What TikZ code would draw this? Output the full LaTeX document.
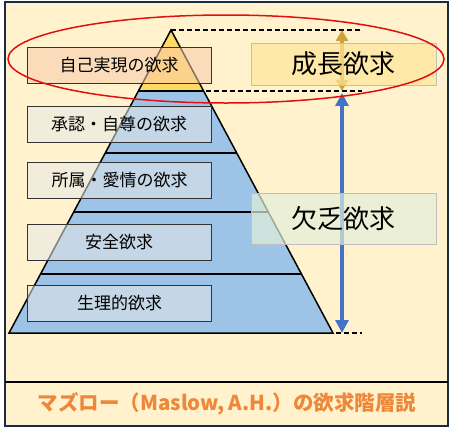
\documentclass[tikz,border=0pt]{standalone}
\usepackage{fontspec}
\setmainfont{Noto Sans CJK JP}
\usetikzlibrary{calc,arrows.meta}
\definecolor{masCrema}{HTML}{FFF2CC}
\definecolor{masAzul}{HTML}{9DC3E6}
\definecolor{masAmarillo}{HTML}{FFD966}
\definecolor{masMelocoton}{HTML}{F8CBAD}
\definecolor{masGris}{HTML}{E6E8E8}
\definecolor{masOro}{HTML}{FFE699}
\definecolor{masVerde}{HTML}{E2EFDA}
\definecolor{masBorde}{HTML}{333333}
\definecolor{masBordeClaro}{HTML}{BFBFBF}
\definecolor{masRojo}{HTML}{E01010}
\definecolor{masOcre}{HTML}{CFA33C}
\definecolor{masFlecha}{HTML}{4472C4}
\definecolor{masMarino}{HTML}{1C2A44}
\definecolor{masNaranja}{HTML}{EE873A}

\begin{document}
\begin{tikzpicture}[x=1pt, y=-1pt,
      font=\fontsize{17}{19}\selectfont,
      nivel/.style={draw=masBorde, line width=0.9pt, fill=#1, fill opacity=0.55,
                    text opacity=1, minimum width=184pt, minimum height=36pt, inner sep=0pt},
      grupo/.style={draw=masBordeClaro, line width=0.7pt, fill=#1, fill opacity=0.7,
                    text opacity=1, minimum width=185pt, inner sep=0pt,
                    font=\fontsize{26}{28}\selectfont},
      guia/.style={dash pattern=on 5pt off 3pt, line width=1.3pt},
      flechaOro/.style={masOcre, line width=4pt,
                        {Triangle[width=12pt,length=11pt]}-{Triangle[width=12pt,length=11pt]}},
      flechaAzul/.style={masFlecha, line width=4pt,
                         {Triangle[width=13pt,length=13pt]}-{Triangle[width=13pt,length=13pt]}}]
    \useasboundingbox (0,0) rectangle (452,429);
    % marco
    \fill[masCrema] (5,2) rectangle (448,426);
    % piramide
    \coordinate (cima) at (171,30);
    \coordinate (bi) at (9,333);
    \coordinate (bd) at (333,333);
    \coordinate (n1i) at ($(cima)!0.2013!(bi)$);
    \coordinate (n1d) at ($(cima)!0.2013!(bd)$);
    \coordinate (fin) at (362,0);
    \coordinate (eje) at (342,0);
    \fill[masAzul] (n1i) -- (n1d) -- (bd) -- (bi) -- cycle;
    \fill[masAmarillo] (cima) -- (n1d) -- (n1i) -- cycle;
    \foreach \t in {0.2013,0.4059,0.6007,0.8053}
      \draw[line width=1.5pt] ($(cima)!\t!(bi)$) -- ($(cima)!\t!(bd)$);
    \draw[line width=1.5pt, line join=miter] (cima) -- (bd) -- (bi) -- cycle;
    % lineas guia
    \draw[guia] (cima) -- (cima -| fin);
    \draw[guia] ([xshift=2pt]n1d) -- (n1d -| fin);
    \draw[guia] ([xshift=3pt]bd) -- (bd -| fin);
    % flechas
    \draw[flechaOro] (cima -| eje) -- (n1d -| eje);
    \draw[flechaAzul] ([yshift=-2pt]n1d -| eje) -- (bd -| eje);
    % niveles
    \node[nivel=masMelocoton] (autorreal) at (119,65) {自己実現の欲求};
    \node[nivel=masGris] (estima) at (119,124) {承認・自尊の欲求};
    \node[nivel=masGris] (afecto) at (119.5,180) {所属・愛情の欲求};
    \node[nivel=masGris] (seguridad) at (119,242) {安全欲求};
    \node[nivel=masGris] (fisiolog) at (119.5,303.5) {生理的欲求};
    \node[grupo=masOro, minimum height=42pt] (crecer) at (343.5,64) {成長欲求};
    \node[grupo=masVerde, minimum height=51pt] (carencia) at (343.5,218.5) {欠乏欲求};
    % realce
    \draw[masRojo, line width=1.5pt] (226,59) ellipse [x radius=218pt, y radius=44pt];
    % titulo
    \draw[masMarino, line width=2pt] (5,2) rectangle (448,426);
    \draw[line width=2pt] (5,382) -- (448,382);
    \node[masNaranja, font=\fontsize{20.5}{22}\selectfont\bfseries] (titulo) at (227,404)
      {マズロー（Maslow, A.H.）の欲求階層説};
  \end{tikzpicture}
\end{document}
